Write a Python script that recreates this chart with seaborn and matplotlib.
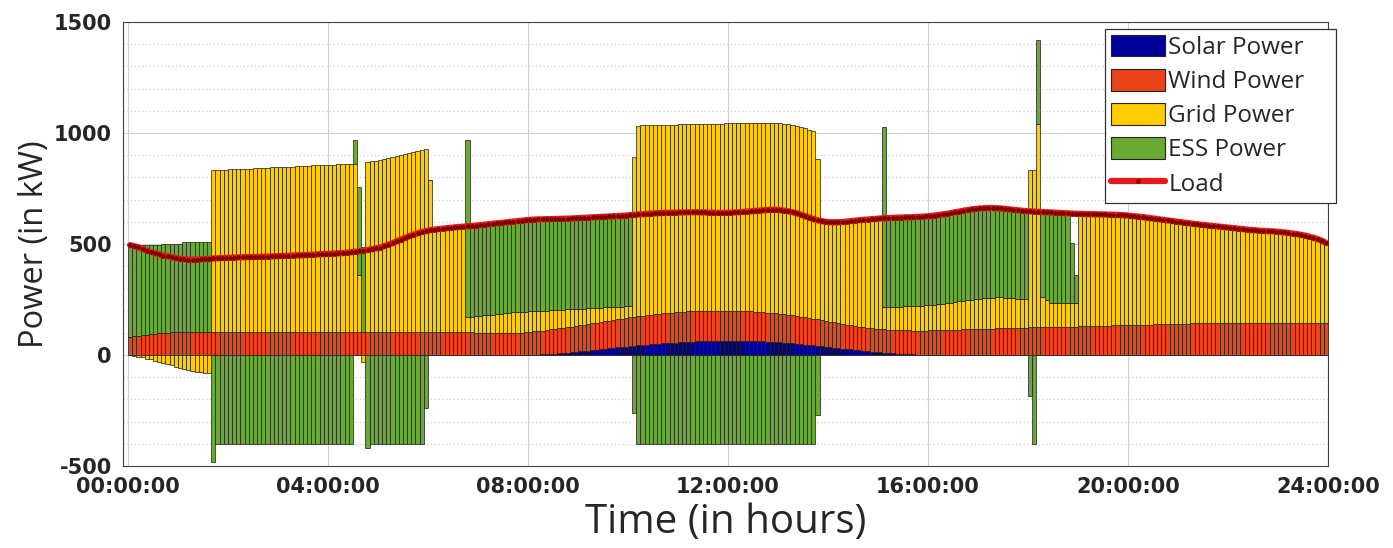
import numpy as np
import seaborn as sns
import matplotlib
matplotlib.use("Agg")
from matplotlib import pyplot as plt
from matplotlib.patches import Patch
from matplotlib.lines import Line2D
from matplotlib.ticker import MultipleLocator

# 5-minute samples over one day (kW)
solar = [0] * 96 + [
    0, 1, 2, 3, 4, 5, 6, 8, 9, 11, 12, 14,
    16, 18, 20, 22, 24, 26, 28, 30, 32, 34, 36, 38,
    40, 42, 44, 45, 47, 48, 50, 51, 53, 54, 55, 56,
    57, 58, 59, 60, 61, 62, 63, 63, 64, 64, 65, 65,
    65, 65, 65, 64, 64, 63, 63, 62, 61, 60, 59, 58,
    57, 55, 54, 52, 50, 49, 47, 45, 43, 41, 39, 37,
    35, 33, 31, 29, 27, 25, 23, 21, 19, 17, 15, 13,
    12, 10, 9, 8, 6, 5, 4, 3, 3, 2, 1, 1,
] + [0] * 96

wind = [
    82, 84, 86, 88, 90, 93, 95, 97, 100, 101, 103, 104,
    105, 105, 105, 105, 105, 105, 105, 105, 105, 105, 105, 105,
    105, 105, 105, 104, 104, 104, 104, 104, 104, 104, 104, 104,
    104, 104, 104, 104, 104, 104, 104, 104, 104, 104, 104, 104,
    104, 104, 104, 104, 104, 104, 104, 104, 104, 104, 104, 104,
    104, 104, 104, 104, 104, 104, 104, 104, 104, 104, 104, 104,
    104, 104, 104, 103, 103, 103, 103, 103, 102, 102, 102, 101,
    101, 100, 100, 100, 99, 99, 99, 99, 100, 100, 101, 102,
    104, 105, 106, 107, 109, 110, 112, 112, 114, 114, 116, 117,
    118, 119, 120, 121, 122, 123, 124, 125, 126, 127, 128, 129,
    130, 131, 131, 132, 133, 134, 134, 135, 135, 136, 136, 137,
    137, 137, 137, 137, 137, 137, 136, 137, 136, 136, 135, 135,
    135, 135, 134, 134, 133, 133, 132, 131, 131, 130, 130, 129,
    128, 128, 126, 126, 125, 123, 122, 121, 120, 119, 118, 117,
    115, 114, 112, 111, 109, 108, 107, 107, 106, 106, 106, 106,
    105, 106, 105, 105, 106, 107, 107, 108, 107, 108, 109, 109,
    111, 111, 112, 112, 113, 113, 114, 114, 115, 115, 116, 116,
    118, 118, 119, 119, 120, 120, 121, 121, 122, 122, 123, 123,
    124, 124, 125, 125, 126, 126, 127, 127, 127, 128, 128, 128,
    129, 129, 130, 130, 131, 131, 132, 132, 133, 133, 134, 134,
    135, 135, 136, 136, 137, 137, 138, 138, 139, 139, 140, 140,
    141, 141, 141, 142, 142, 142, 142, 143, 143, 143, 143, 143,
    143, 143, 143, 143, 143, 143, 144, 144, 144, 144, 144, 144,
    144, 144, 144, 144, 144, 144, 144, 144, 144, 144, 144, 144,
]

grid = [
    0, -3, -7, -11, -16, -20, -25, -30, -35, -41, -47, -53,
    -59, -64, -68, -72, -75, -77, -79, -80, 730, 729, 729, 730,
    731, 732, 733, 734, 735, 736, 737, 738, 739, 740, 741, 742,
    743, 744, 744, 745, 746, 747, 748, 749, 750, 750, 751, 752,
    753, 754, 755, 756, 757, 758, 758, 256, -30, 766, 769, 772,
    776, 780, 785, 789, 794, 798, 803, 807, 812, 816, 821, 826,
    683, 461, 463, 466, 468, 470, 472, 474, 476, 69, 70, 73,
    75, 78, 80, 82, 85, 87, 89, 91, 92, 93, 93, 93,
    92, 91, 90, 89, 87, 86, 84, 83, 81, 80, 78, 76,
    74, 72, 70, 68, 66, 64, 62, 60, 58, 56, 54, 52,
    50, 717, 858, 857, 855, 853, 852, 850, 849, 847, 847, 845,
    845, 844, 844, 843, 842, 842, 842, 841, 842, 842, 842, 843,
    843, 843, 845, 846, 847, 849, 850, 852, 853, 855, 855, 857,
    858, 859, 860, 859, 858, 856, 853, 849, 844, 725, 446, 446,
    448, 451, 455, 459, 465, 470, 475, 479, 484, 487, 491, 494,
    498, 100, 103, 104, 106, 106, 108, 108, 110, 111, 112, 113,
    114, 116, 117, 119, 120, 123, 125, 128, 130, 133, 134, 136,
    136, 138, 139, 140, 140, 140, 138, 137, 134, 132, 130, 129,
    708, 708, 916, 135, 124, 110, 107, 107, 107, 106, 106, 106,
    507, 506, 505, 504, 503, 502, 501, 500, 499, 498, 496, 495,
    492, 490, 487, 485, 482, 479, 476, 473, 470, 467, 464, 461,
    458, 455, 453, 449, 447, 445, 443, 440, 438, 436, 434, 432,
    430, 428, 426, 424, 422, 420, 418, 416, 415, 414, 413, 412,
    410, 408, 406, 403, 401, 397, 394, 389, 384, 378, 371, 361,
]

ess = [
    413, 411, 409, 407, 405, 402, 400, 398, 402, 401, 399, 398,
    397, 405, 405, 405, 405, 405, 405, 405, -480, -400, -400, -400,
] + [-400] * 24 + [
    -400, -400, -400, -400, -400, -400, 105, 396, 382, -420, -400, -400,
    -400, -400, -400, -400, -400, -400, -400, -400, -400, -400, -400, -238,
    0, 0, 0, 0, 0, 0, 0, 0, 0, 797, 409, 409,
    409, 409, 409, 409, 409, 409, 409, 409, 409, 410, 411, 412,
    413, 413, 413, 412, 412, 411, 411, 410, 410, 409, 409, 409,
    409, 409, 409, 409, 409, 409, 409, 409, 409, 409, 409, 409,
    410, -261, -400, -400, -400, -400, -400, -400, -400, -400, -400, -400,
] + [-400] * 24 + [
    -400, -400, -400, -400, -400, -400, -400, -400, -400, -270, 0, 0,
] + [0] * 12 + [
    0, 810, 400, 401, 401, 401, 401, 401, 401, 401, 401, 401,
    401, 401, 401, 402, 403, 403, 404, 404, 405, 405, 406, 406,
    406, 405, 404, 403, 401, 400, 399, 398, 398, 398, 397, 396,
    -185, -400, 380, 384, 393, 406, 407, 406, 405, 404, 270, 126,
] + [0] * 60

load = [
    495, 490, 485, 478, 470, 464, 458, 453, 448, 444, 440, 436,
    433, 431, 430, 430, 430, 431, 432, 433, 435, 436, 437, 437,
    438, 439, 440, 440, 441, 441, 442, 442, 443, 443, 444, 445,
    446, 446, 447, 448, 449, 449, 450, 451, 452, 453, 454, 455,
    456, 457, 458, 459, 461, 463, 465, 467, 470, 473, 476, 480,
    484, 490, 497, 504, 512, 520, 527, 535, 542, 548, 554, 558,
    562, 565, 567, 569, 571, 573, 575, 577, 578, 580, 581, 583,
    585, 587, 589, 591, 593, 595, 597, 599, 601, 603, 605, 607,
    609, 610, 611, 611, 612, 612, 613, 613, 614, 614, 615, 616,
    617, 618, 619, 620, 621, 622, 623, 624, 625, 626, 627, 628,
    630, 631, 633, 634, 636, 637, 638, 639, 640, 640, 641, 641,
    642, 642, 643, 643, 643, 642, 642, 641, 641, 640, 640, 640,
    641, 642, 643, 644, 646, 647, 649, 650, 652, 653, 654, 654,
    652, 650, 647, 643, 638, 632, 625, 619, 612, 607, 603, 600,
    598, 598, 598, 599, 601, 603, 605, 607, 609, 610, 612, 613,
    615, 616, 617, 618, 619, 619, 620, 620, 621, 622, 623, 624,
    626, 628, 630, 633, 636, 639, 643, 646, 650, 653, 656, 658,
    660, 661, 662, 662, 661, 660, 658, 656, 654, 652, 650, 648,
    647, 646, 645, 644, 643, 642, 641, 640, 639, 638, 637, 636,
    636, 635, 635, 634, 634, 633, 633, 632, 632, 631, 630, 629,
    627, 625, 623, 621, 619, 616, 614, 611, 609, 606, 604, 601,
    599, 596, 594, 591, 589, 587, 585, 583, 581, 579, 577, 575,
    573, 571, 569, 567, 565, 563, 562, 560, 559, 558, 557, 556,
    554, 552, 550, 547, 545, 541, 538, 533, 528, 522, 515, 505,
]

labels = ["Solar Power", "Wind Power", "Grid Power", "ESS Power"]
colors = ["#000099", "#ec441a", "#ffcc00", "#6aa934"]
tick_hours = [0, 4, 8, 12, 16, 20, 24]
tick_labels = ["%02d:00:00" % h for h in tick_hours]

sns.set_style("white")
plt.rcParams["font.family"] = ["DejaVu Sans"]
plt.rcParams["axes.unicode_minus"] = False

fig = plt.figure(figsize=(13.93, 5.48), dpi=100)
ax = fig.add_axes([0.0883, 0.1496, 0.865, 0.8103])

step = 1 / 12
x = np.arange(len(load)) * step + step / 2

pos = np.zeros(len(load))
neg = np.zeros(len(load))
for vals, col in zip([solar, wind, grid, ess], colors):
    v = np.array(vals, dtype=float)
    bottom = np.where(v >= 0, pos, neg)
    ax.bar(x, v, width=step, bottom=bottom, color=col,
           edgecolor="#1a1a1a", linewidth=0.5, zorder=2)
    pos += np.clip(v, 0, None)
    neg += np.clip(v, None, 0)

sns.lineplot(x=x, y=load, ax=ax, color="#e41a1a", linewidth=4.5,
             marker="o", markersize=2.5, markerfacecolor="#7a0000",
             markeredgecolor="#7a0000", zorder=4, legend=False)

ax.set_xlim(-0.1, 24)
ax.set_ylim(-500, 1500)
ax.set_xticks(tick_hours)
ax.set_xticklabels(tick_labels)
ax.yaxis.set_major_locator(MultipleLocator(500))
ax.yaxis.set_minor_locator(MultipleLocator(100))
ax.set_axisbelow(True)
ax.grid(which="major", color="#d0d0d0", linewidth=0.8, linestyle="-")
ax.grid(which="minor", axis="y", color="#cfcfcf", linewidth=0.9,
        linestyle=(0, (1, 2)))
ax.tick_params(axis="both", which="major", direction="in", length=5,
               labelsize=15, colors="#262626", pad=8)
ax.tick_params(axis="y", which="minor", length=0)
for lab in ax.get_xticklabels() + ax.get_yticklabels():
    lab.set_fontweight("bold")
for sp in ax.spines.values():
    sp.set_color("#404040")
    sp.set_linewidth(0.8)

ax.set_ylabel("Power (in kW)", fontsize=23.5, family="Open Sans",
              color="#262626", labelpad=2)
ax.set_xlabel("Time (in hours)", fontsize=29, family="Open Sans",
              color="#262626", labelpad=4)

handles = [Patch(facecolor=c, edgecolor="#222222", linewidth=0.8) for c in colors]
handles.append(Line2D([0], [0], color="#e41a1a", linewidth=4.5, marker="o",
                      markersize=2.5, markerfacecolor="#7a0000",
                      markeredgecolor="#7a0000"))
leg = ax.legend(handles, labels + ["Load"], loc="upper left",
                bbox_to_anchor=(1105 / 1393, 1 - 34 / 548, 231 / 1393, 0.01),
                bbox_transform=fig.transFigure, borderaxespad=0,
                mode="expand",
                prop={"family": "Open Sans", "size": 17.5},
                handlelength=2.2, handleheight=1.0, handletextpad=0.15,
                labelspacing=0.37, borderpad=0.25, fancybox=False,
                framealpha=1, edgecolor="#333333")
leg.get_frame().set_linewidth(0.9)
leg.set_zorder(10)

fig.savefig("out.png", dpi=100)
